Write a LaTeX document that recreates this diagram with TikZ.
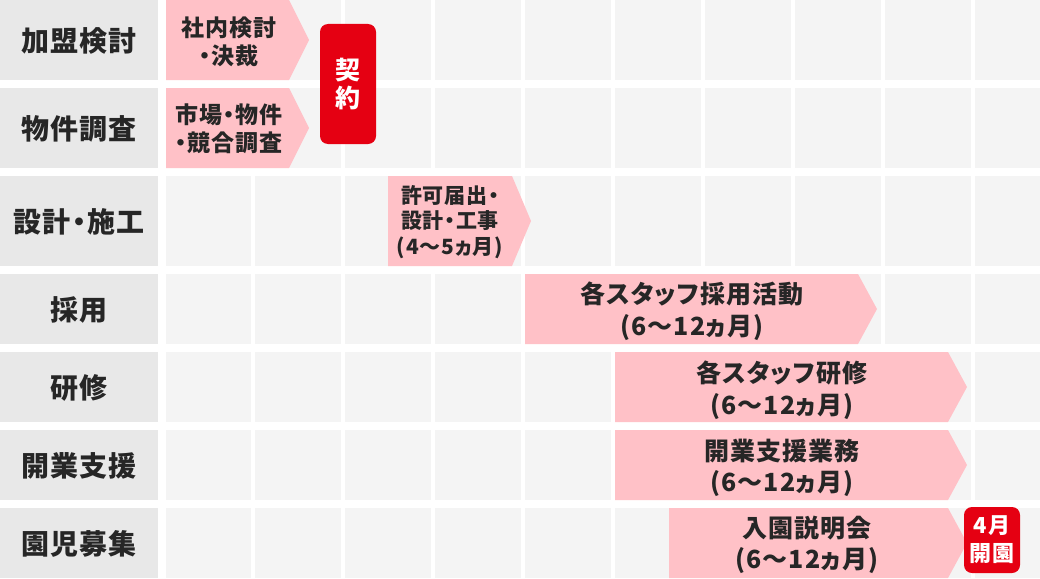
\documentclass[tikz,border=0pt]{standalone}
\usepackage{fontspec}
\newfontfamily\jp{Noto Sans CJK JP}[RawFeature=+palt, LetterSpace=4]
\definecolor{lblbg}{HTML}{E8E8E8}
\definecolor{cellbg}{HTML}{F4F4F4}
\definecolor{pinkbar}{HTML}{FFC1C7}
\definecolor{redbox}{HTML}{E50012}
\definecolor{inkc}{HTML}{262626}
\tikzset{
  lbltext/.style={font=\jp\bfseries\fontsize{28}{32}\selectfont, text=inkc, align=center, inner sep=0pt},
  bigtext/.style={font=\jp\bfseries\fontsize{25}{31.5}\selectfont, text=inkc, align=center, inner sep=0pt},
  midtext/.style={font=\jp\bfseries\fontsize{23}{28}\selectfont, text=inkc, align=center, inner sep=0pt},
  smalltext/.style={font=\jp\bfseries\fontsize{21}{25.5}\selectfont, text=inkc, align=center, inner sep=0pt},
  redtag/.style={fill=redbox, rounded corners=8pt, text=white, align=center, inner sep=0pt,
    font=\jp\bfseries\fontsize{25}{28}\selectfont},
  bar/.style={fill=pinkbar}
}
\begin{document}
\begin{tikzpicture}[x=1pt,y=-1pt]
\useasboundingbox (0,0) rectangle (1040,578);
\fill[white] (0,0) rectangle (1040,578);
% rows
\foreach \t/\b in {0/80,88/168,176/266,274/344,352/422,430/500,508/578}{
  \fill[lblbg] (0,\t) rectangle (158,\b);
  \fill[cellbg] (166,\t) rectangle (1040,\b);
}
% column separators
\foreach \x in {253,343,433,523,613,703,793,883,973}{
  \fill[white] (\x-2,0) rectangle (\x+2,578);
}
% row labels
\node[lbltext] (l1) at (79,41) {加盟検討};
\node[lbltext] (l2) at (79,129) {物件調査};
\node[lbltext] (l3) at (79,222) {設計・施工};
\node[lbltext] (l4) at (79,310) {採用};
\node[lbltext] (l5) at (79,388) {研修};
\node[lbltext] (l6) at (79,466) {開業支援};
\node[lbltext] (l7) at (79,544) {園児募集};
% pink bars
\fill[bar] (166,0) -- (289,0) -- (309,40) -- (289,80) -- (166,80) -- cycle;
\fill[bar] (166,88) -- (289,88) -- (309,128) -- (289,168) -- (166,168) -- cycle;
\fill[bar] (388,176) -- (512,176) -- (531,221) -- (512,266) -- (388,266) -- cycle;
\fill[bar] (525,274) -- (858,274) -- (877,309) -- (858,344) -- (525,344) -- cycle;
\fill[bar] (615,352) -- (948,352) -- (967,387) -- (948,422) -- (615,422) -- cycle;
\fill[bar] (615,430) -- (948,430) -- (967,465) -- (948,500) -- (615,500) -- cycle;
\fill[bar] (669,508) -- (948,508) -- (967,543) -- (948,578) -- (669,578) -- cycle;
% bar texts
\node[midtext] (t1) at (229,42) {社内検討\\・決裁};
\node[midtext] (t2) at (229,129) {市場・物件\\・競合調査};
\node[smalltext] (t3) at (450,222) {許可届出・\\設計・工事\\(4〜5ヵ月)};
\node[bigtext] (t4) at (692,311) {各スタッフ採用活動\\(6〜12ヵ月)};
\node[bigtext] (t5) at (782,390) {各スタッフ研修\\(6〜12ヵ月)};
\node[bigtext] (t6) at (782,468) {開業支援業務\\(6〜12ヵ月)};
\node[bigtext] (t7) at (807,545) {入園説明会\\(6〜12ヵ月)};
% red tags
\node[redtag, minimum width=56pt, minimum height=120pt] (keiyaku) at (348,84) {契\\約};
\node[redtag, minimum width=56pt, minimum height=66pt, font=\jp\bfseries\fontsize{22}{28}\selectfont] (kaien) at (992,540) {4月\\開園};
\end{tikzpicture}
\end{document}
